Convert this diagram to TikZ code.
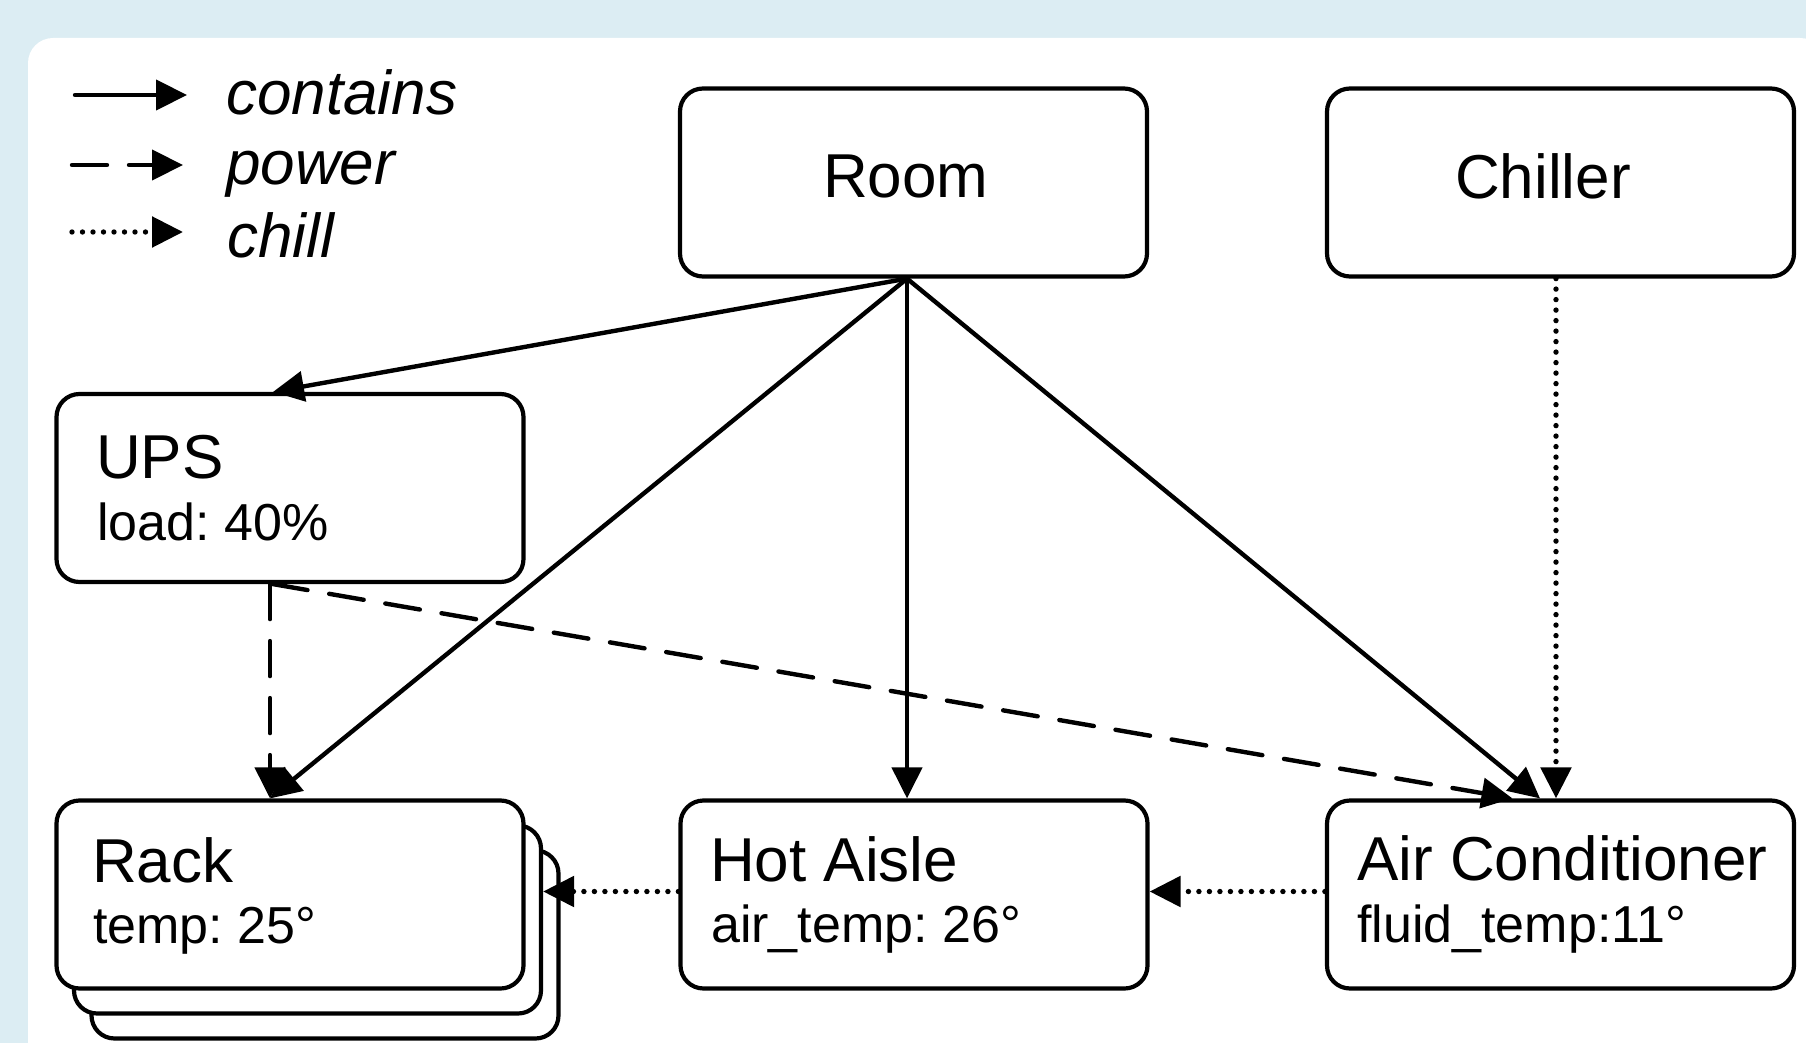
\documentclass[tikz,border=0pt]{standalone}
\usepackage{fontspec}
\setmainfont{Liberation Sans}
\usetikzlibrary{arrows.meta}

\definecolor{pagebg}{RGB}{220,237,243}
\newcommand\boxtitlefont{\fontsize{62pt}{72pt}\selectfont}
\newcommand\boxdetailfont{\fontsize{52pt}{60pt}\selectfont}
\newcommand\legendfont{\fontsize{62pt}{72pt}\selectfont\itshape}
\frenchspacing

\begin{document}
\begin{tikzpicture}[x=1pt,y=-1pt,
  box/.style={draw=black, fill=white, line width=4.2pt, rounded corners=23pt,
              minimum width=467pt, minimum height=188pt, inner sep=0pt},
  lbl/.style={anchor=base west, inner sep=0pt},
  link/.style={line width=4.4pt, line cap=round,
               -{Triangle[length=31pt,width=30pt]}},
  contains/.style={link},
  power/.style={link, dash pattern=on 35pt off 22pt},
  chill/.style={link, line width=5.4pt, dash pattern=on 0pt off 10.5pt},
]
% page background and white panel
\useasboundingbox (0,0) rectangle (1806,1043);
\begin{scope}
  \clip (0,0) rectangle (1806,1043);
  \fill[pagebg] (0,0) rectangle (1806,1043);
  \fill[white, rounded corners=25pt] (28,38) rectangle (1825,1100);
\end{scope}

% legend
\coordinate (keyAfrom) at (75,95);
\coordinate (keyAto) at (187,95);
\coordinate (keyBfrom) at (72,165);
\coordinate (keyBto) at (183,165);
\coordinate (keyCfrom) at (72,232);
\coordinate (keyCto) at (183,232);
\draw[contains] (keyAfrom) -- (keyAto);
\draw[power] (keyBfrom) -- (keyBto);
\draw[chill] (keyCfrom) -- (keyCto);
\node[lbl] (keyA) at (226,115) {\legendfont contains};
\node[lbl] (keyB) at (226,185) {\legendfont power};
\node[lbl] (keyC) at (227,257) {\legendfont chill};

% boxes
\node[box] (room) at (913.5,182.5) {};
\node[box] (chiller) at (1560.5,182.5) {};
\node[box] (ups) at (290,488) {};
\node[box] (rack3) at (325,944.5) {};
\node[box] (rack2) at (307.5,919.5) {};
\node[box] (rack) at (290,894.5) {};
\node[box] (hot) at (914,894.5) {};
\node[box] (ac) at (1560.5,894.5) {};

% box texts
\node[lbl] (roomname) at (823,197) {\boxtitlefont Room};
\node[lbl] (chillername) at (1455,198) {\boxtitlefont Chiller};
\node[lbl] (upsname) at (96,478) {\boxtitlefont UPS};
\node[lbl] (upsload) at (97,540) {\boxdetailfont load: 40\%};
\node[lbl] (rackname) at (92,882) {\boxtitlefont Rack};
\node[lbl] (racktemp) at (93,943) {\boxdetailfont temp: 25°};
\node[lbl] (hotname) at (710,881) {\boxtitlefont Hot Aisle};
\node[lbl] (hottemp) at (711,942) {\boxdetailfont air\_temp: 26°};
\node[lbl] (acname) at (1357,880) {\boxtitlefont Air Conditioner};
\node[lbl] (actemp) at (1357,942) {\boxdetailfont fluid\_temp:11°};

% contains
\draw[contains] ([xshift=-6.5pt]room.south) -- ([xshift=-17pt]ups.north);
\draw[contains] ([xshift=-6.5pt]room.south) -- ([xshift=-20pt]rack.north);
\draw[contains] ([xshift=-6.5pt]room.south) -- ([xshift=-7pt]hot.north);
\draw[contains] ([xshift=-6.5pt]room.south) -- ([xshift=-20.5pt]ac.north);
% power
\draw[power] ([xshift=-20pt]ups.south) -- ([xshift=-20pt]rack.north);
\draw[power] ([xshift=-17pt]ups.south) -- ([xshift=-48pt]ac.north);
% chill
\draw[chill] ([xshift=-4.5pt]chiller.south) -- ([xshift=-4.5pt]ac.north);
\draw[chill] ([yshift=3pt]ac.west) -- ([yshift=3pt]hot.east);
\draw[chill] ([yshift=3pt]hot.west) -- ([yshift=3pt]hot.west -| rack2.east);
\end{tikzpicture}
\end{document}
